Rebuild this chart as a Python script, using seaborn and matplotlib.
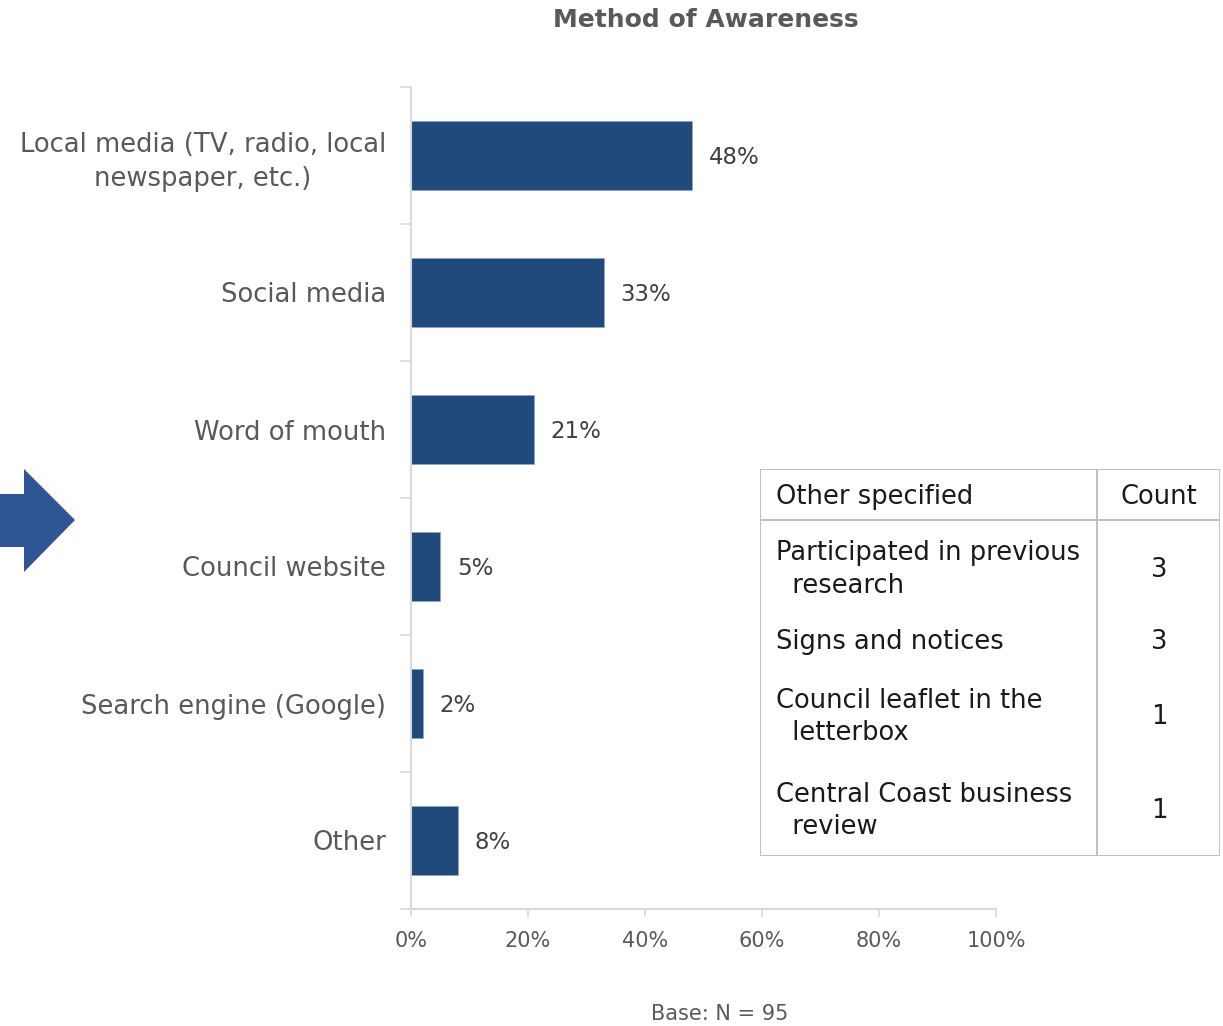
import matplotlib
matplotlib.use("Agg")
import matplotlib.pyplot as plt
import seaborn as sns
import pandas as pd
from matplotlib.patches import Polygon, Rectangle
from matplotlib.lines import Line2D

categories = ["Local media (TV, radio, local\nnewspaper, etc.)", "Social media",
              "Word of mouth", "Council website", "Search engine (Google)", "Other"]
values = [48, 33, 21, 5, 2, 8]
value_labels = ["48%", "33%", "21%", "5%", "2%", "8%"]
xticks = [0, 20, 40, 60, 80, 100]
xtick_labels = ["0%", "20%", "40%", "60%", "80%", "100%"]

table_header = ["Other specified", "Count"]
table_items = ["Participated in previous\n  research", "Signs and notices",
               "Council leaflet in the\n  letterbox", "Central Coast business\n  review"]
table_counts = ["3", "3", "1", "1"]

title = "Method of Awareness"
base_note = "Base: N = 95"

sns.set_theme(style="white")
plt.rcParams["font.family"] = ["DejaVu Sans"]

W, H = 1223, 1026
fig = plt.figure(figsize=(W / 100, H / 100), dpi=100)

BAR = "#204A7C"
GRID = "#D9D9D9"
TXT = "#595959"

ax = fig.add_axes([411 / W, 1 - 909 / H, 585 / W, 822 / H])
df = pd.DataFrame({"cat": categories, "val": values})
sns.barplot(data=df, x="val", y="cat", orient="h", color=BAR, width=0.5,
            saturation=1, ax=ax, edgecolor="#8EA4C4", linewidth=0.6)

ax.set_xlim(0, 100)
ax.set_ylim(len(categories) - 0.5, -0.5)
ax.set_xticks(xticks)
ax.set_xticklabels(xtick_labels, fontsize=15, color=TXT)
ax.set_yticks(range(len(categories)))
ax.set_yticklabels(categories, fontsize=18.6, color=TXT, multialignment="center",
                   linespacing=1.35)
ax.set_yticks([i - 0.5 for i in range(len(categories) + 1)], minor=True)
ax.tick_params(axis="y", which="major", length=0, pad=18)
ax.tick_params(axis="y", which="minor", length=8, width=1.2, color=GRID, left=True)
ax.tick_params(axis="x", which="major", length=6, width=1.2, color=GRID,
               bottom=True, pad=10)
ax.set_xlabel("")
ax.set_ylabel("")
for s in ["top", "right"]:
    ax.spines[s].set_visible(False)
for s in ["left", "bottom"]:
    ax.spines[s].set_color(GRID)
    ax.spines[s].set_linewidth(1.5)

for i, (v, lab) in enumerate(zip(values, value_labels)):
    ax.annotate(lab, xy=(v, i), xytext=(12, -1.5), textcoords="offset points",
                va="center", ha="left", fontsize=16.5, color="#404040")

fig.text(706 / W, 1 - 20 / H, title, ha="center", va="center", fontsize=18,
         fontweight="bold", color=TXT)
fig.text(720 / W, 1 - 1014 / H, base_note, ha="center", va="center",
         fontsize=15, color=TXT)

# Arrow shape on the left
arrow_pts = [(0, 494), (24, 494), (24, 469), (75, 520), (24, 572), (24, 547), (0, 547)]
fig.patches.append(Polygon([(x / W, 1 - y / H) for x, y in arrow_pts], closed=True,
                           transform=fig.transFigure, facecolor="#2F5597",
                           edgecolor="none"))

# Side table
tx0, ty0, tx1, ty1 = 760, 469, 1220, 856
tax = fig.add_axes([tx0 / W, 1 - ty1 / H, (tx1 - tx0) / W, (ty1 - ty0) / H])
tax.set_xlim(0, tx1 - tx0)
tax.set_ylim(ty1 - ty0, 0)
tax.axis("off")
LC = "#BFBFBF"
tax.add_patch(Rectangle((0, 0), tx1 - tx0, ty1 - ty0, fill=False, edgecolor=LC,
                        linewidth=1.4))
tax.add_line(Line2D([337, 337], [0, ty1 - ty0], color=LC, linewidth=1.4))
tax.add_line(Line2D([0, tx1 - tx0], [51, 51], color=LC, linewidth=1.4))
TT = "#1A1A1A"
tax.text(16, 28, table_header[0], ha="left", va="center", fontsize=18.5, color=TT)
tax.text(399, 28, table_header[1], ha="center", va="center", fontsize=18.5, color=TT)
row_y = [101, 173, 248, 342]
for y, item, c in zip(row_y, table_items, table_counts):
    tax.text(16, y, item, ha="left", va="center", fontsize=18.5, color=TT,
             linespacing=1.35)
    tax.text(399, y, c, ha="center", va="center", fontsize=18.5, color=TT)

fig.savefig("out.png", dpi=100, facecolor="white")
